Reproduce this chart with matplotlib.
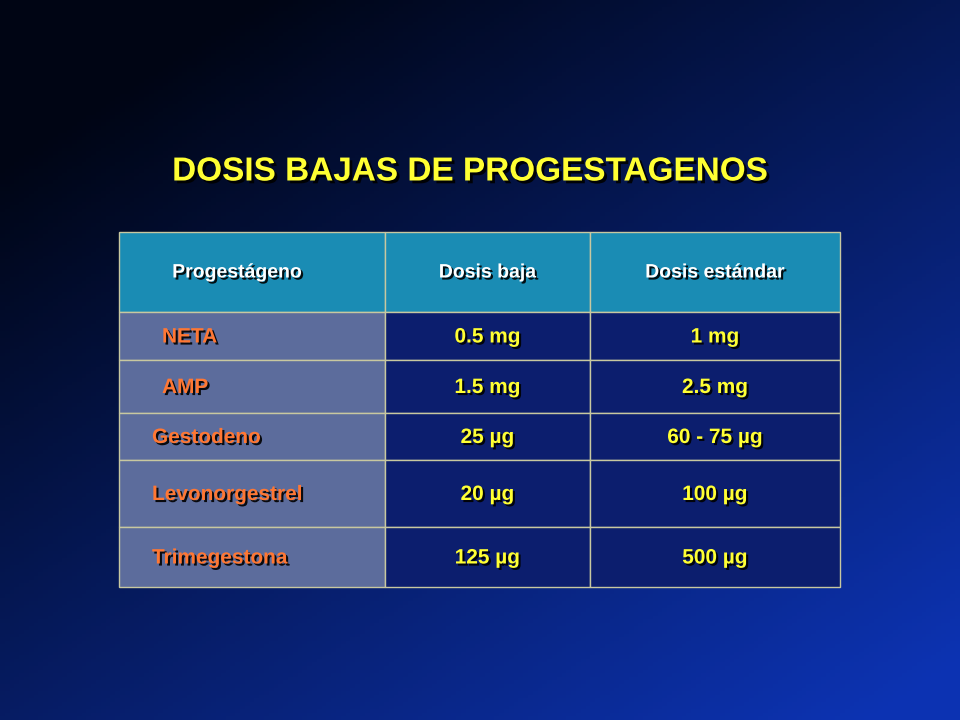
import matplotlib.pyplot as plt
import matplotlib.patheffects as pe
import numpy as np

plt.rcParams["font.family"] = "Liberation Sans"

title = "DOSIS BAJAS DE PROGESTAGENOS"
headers = ["Progestágeno", "Dosis baja", "Dosis estándar"]
progestagenos = ["NETA", "AMP", "Gestodeno", "Levonorgestrel", "Trimegestona"]
dosis_baja = ["0.5 mg", "1.5 mg", "25 µg", "20 µg", "125 µg"]
dosis_estandar = ["1 mg", "2.5 mg", "60 - 75 µg", "100 µg", "500 µg"]

# layout (pixels)
col_edges = [119, 385, 590, 840]
row_edges = [232, 312, 360, 413, 460, 527, 587]
name_x = [162, 162, 152, 152, 152]

fig = plt.figure(figsize=(9.6, 7.2), dpi=100)
ax = fig.add_axes([0, 0, 1, 1])
ax.set_xlim(0, 960)
ax.set_ylim(720, 0)
ax.axis("off")

# background gradient
yy, xx = np.mgrid[0:1:200j, 0:1:200j]
t = np.clip(0.55 * xx + 0.65 * yy - 0.15, 0, 1)
bg = np.zeros((200, 200, 3))
bg[..., 0] = 0.0 + 0.05 * t
bg[..., 1] = 0.02 + 0.18 * t
bg[..., 2] = 0.08 + 0.62 * t
ax.imshow(bg, extent=[0, 960, 720, 0], aspect="auto", zorder=0)

ax.text(470, 172, title, color="#ffff33", fontsize=24, fontweight="bold",
        ha="center", va="center",
        path_effects=[pe.withSimplePatchShadow(offset=(2, -2), shadow_rgbFace="k", alpha=0.9)])

def cell(x0, x1, y0, y1, color):
    ax.add_patch(plt.Rectangle((x0, y0), x1 - x0, y1 - y0, facecolor=color,
                               edgecolor="#c8c8a0", linewidth=1, zorder=2))

txt_fx = [pe.withSimplePatchShadow(offset=(1.5, -1.5), shadow_rgbFace="k", alpha=0.9)]

for j, h in enumerate(headers):
    cell(col_edges[j], col_edges[j + 1], row_edges[0], row_edges[1], "#1a8cb4")
    xc = (col_edges[j] + col_edges[j + 1]) / 2 - (15 if j == 0 else 0)
    ax.text(xc, (row_edges[0] + row_edges[1]) / 2 + 1, h, color="white", fontsize=14,
            fontweight="bold", ha="center", va="center", zorder=3, path_effects=txt_fx)

for i in range(len(progestagenos)):
    y0, y1 = row_edges[i + 1], row_edges[i + 2]
    yc = (y0 + y1) / 2 + 1
    cell(col_edges[0], col_edges[1], y0, y1, "#5c6c9c")
    cell(col_edges[1], col_edges[2], y0, y1, "#0c1e6e")
    cell(col_edges[2], col_edges[3], y0, y1, "#0c1e6e")
    ax.text(name_x[i], yc, progestagenos[i], color="#ff7733", fontsize=15,
            fontweight="bold", ha="left", va="center", zorder=3, path_effects=txt_fx)
    ax.text((col_edges[1] + col_edges[2]) / 2, yc, dosis_baja[i], color="#ffff33",
            fontsize=15, fontweight="bold", ha="center", va="center", zorder=3, path_effects=txt_fx)
    ax.text((col_edges[2] + col_edges[3]) / 2, yc, dosis_estandar[i], color="#ffff33",
            fontsize=15, fontweight="bold", ha="center", va="center", zorder=3, path_effects=txt_fx)

fig.savefig("out.png", dpi=100)
